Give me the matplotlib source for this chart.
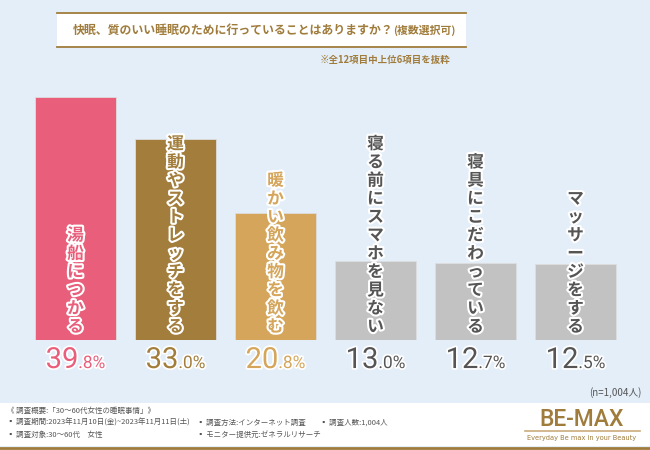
import matplotlib
matplotlib.use("Agg")
import matplotlib.pyplot as plt
import matplotlib.patheffects as pe
from matplotlib.patches import Rectangle

plt.rcParams['font.family'] = ['Noto Sans CJK JP', 'DejaVu Sans']

# data
labels = ['湯船につかる', '運動やストレッチをする', '暖かい飲み物を飲む',
          '寝る前にスマホを見ない', '寝具にこだわっている', 'マッサージをする']
values = [39.8, 33.0, 20.8, 13.0, 12.7, 12.5]
bar_colors = ['#e95f7b', '#a27d3b', '#d4a55b', '#c2c2c2', '#c2c2c2', '#c2c2c2']
text_colors = ['#e95f7b', '#a27d3b', '#d4a55b', '#555555', '#555555', '#555555']

title = '快眠、質のいい睡眠のために行っていることはありますか？'
title_sub = '(複数選択可)'
note = '※全12項目中上位6項目を抜粋'
n_note = '(n=1,004人)'

BG = '#e4eef9'
BROWN = '#a07c3c'
GRAY = '#555555'

W, H = 650, 450
fig = plt.figure(figsize=(6.5, 4.5), dpi=100, facecolor=BG)

def fx(px):
    return px / W

def fy(py):
    return 1 - py / H

# title box
fig.patches.append(Rectangle((fx(57), fy(47)), fx(466) - fx(57), fy(13) - fy(47),
                             transform=fig.transFigure, facecolor='white',
                             edgecolor='none', zorder=1))
for yy in (13, 47):
    fig.add_artist(plt.Line2D([fx(57), fx(466)], [fy(yy), fy(yy)],
                              transform=fig.transFigure, color=BROWN, lw=1.3))
fig.text(fx(393), fy(30), title, ha='right', va='center', fontsize=8.6,
         fontweight='bold', color=BROWN)
fig.text(fx(393), fy(30), title_sub, ha='left', va='center', fontsize=7.8,
         fontweight='bold', color=BROWN)
fig.text(fx(450), fy(60), note, ha='right', va='center', fontsize=6.8,
         fontweight='bold', color=BROWN)

# bar axes
ax = fig.add_axes([fx(25.5), 110 / H, 600 / W, 274.5 / H])
ax.set_facecolor('none')
ax.set_xlim(-0.5, 5.5)
ax.set_ylim(0, 45)
ax.axis('off')

x = list(range(len(values)))
ax.bar(x, values, width=0.81, color=bar_colors, edgecolor='#dddddd', linewidth=0.6)

stroke = [pe.withStroke(linewidth=3, foreground='white')]
for i, lab in enumerate(labels):
    ax.text(i, 0.7, '\n'.join(lab), ha='center', va='bottom', fontsize=12,
            fontweight='bold', color=text_colors[i], linespacing=1.02,
            path_effects=stroke)

# percentage labels: large integer part + small decimal part
fig.canvas.draw()
renderer = fig.canvas.get_renderer()
px_per_unit = 600 / 6
for i, v in enumerate(values):
    s = f'{v:.1f}'
    big, small = s.split('.')
    t1 = ax.text(i, -4.6, big, ha='right', va='baseline', fontsize=21,
                 family='Roboto', color=text_colors[i],
                 path_effects=[pe.withStroke(linewidth=2.5, foreground='white')])
    t2 = ax.text(i, -4.6, '.' + small + '%', ha='left', va='baseline', fontsize=12.5,
                 family='Roboto', color=text_colors[i],
                 path_effects=[pe.withStroke(linewidth=2.5, foreground='white')])
    wb = t1.get_window_extent(renderer).width
    ws = t2.get_window_extent(renderer).width
    dx = (wb - ws) / 2 / px_per_unit
    t1.set_x(i + dx)
    t2.set_x(i + dx)

fig.text(fx(641), fy(393), n_note, ha='right', va='center', fontsize=7, color=GRAY)

# footer
fig.patches.append(Rectangle((0, fy(446)), 1, fy(403) - fy(446),
                             transform=fig.transFigure, facecolor='white',
                             edgecolor='none', zorder=1))
fig.add_artist(plt.Line2D([0, 1], [fy(447.5), fy(447.5)], transform=fig.transFigure,
                          color=BROWN, lw=2))
fs = 5.4
fig.text(fx(7), fy(411), '《 調査概要:「30～60代女性の睡眠事情」》', fontsize=fs,
         color=GRAY, va='center')
fig.text(fx(7), fy(423), '▪ 調査期間:2023年11月10日(金)~2023年11月11日(土)',
         fontsize=fs, color=GRAY, va='center')
fig.text(fx(7), fy(435), '▪ 調査対象:30～60代　女性', fontsize=fs, color=GRAY, va='center')
fig.text(fx(197), fy(423), '▪ 調査方法:インターネット調査', fontsize=fs, color=GRAY, va='center')
fig.text(fx(197), fy(435), '▪ モニター提供元:ゼネラルリサーチ', fontsize=fs, color=GRAY, va='center')
fig.text(fx(320), fy(423), '▪ 調査人数:1,004人', fontsize=fs, color=GRAY, va='center')

# logo
fig.text(fx(582), fy(419), 'BE-MAX', ha='center', va='center', fontsize=16.5,
         fontweight='medium', color=BROWN, family='Roboto')
fig.add_artist(plt.Line2D([fx(525), fx(640)], [fy(431), fy(431)],
                          transform=fig.transFigure, color='#c9ac7c', lw=1.2))
fig.text(fx(582), fy(438), 'Everyday Be max in your Beauty', ha='center', va='center',
         fontsize=4.8, color=BROWN, family='DejaVu Sans')

fig.savefig('out.png', dpi=100, facecolor=BG)
